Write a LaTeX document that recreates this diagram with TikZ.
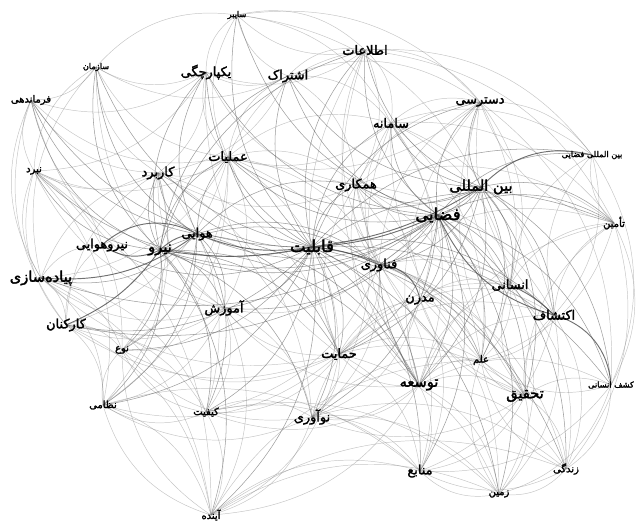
\documentclass[tikz,border=0pt]{standalone}
\usepackage{fontspec}
\newfontfamily\persian[Script=Arabic,FakeBold=2.2]{DejaVu Sans}
\TeXXeTstate=1
\usetikzlibrary{backgrounds}
\newcommand{\fa}[1]{\beginR #1\endR}
\tikzset{
  word/.style={inner sep=0pt, text=black, font=\persian\fontsize{11}{12}\selectfont},
  bigword/.style={word, font=\persian\fontsize{12.5}{13}\selectfont},
  hugeword/.style={word, font=\persian\fontsize{14}{15}\selectfont},
  medword/.style={word, font=\persian\fontsize{8.5}{9}\selectfont},
  smallword/.style={word, font=\persian\fontsize{7}{8}\selectfont},
  link/.style={draw=black!55, line width=0.4pt, opacity=0.42},
  midlink/.style={draw=black!70, line width=0.45pt, opacity=0.55},
  strong/.style={draw=black!70, line width=0.8pt, opacity=0.8}
}

\begin{document}
\begin{tikzpicture}[x=0.03cm,y=-0.03cm]
  \useasboundingbox (0,0) rectangle (639,527);

  % words
  \node[smallword] (cyber) at (237,15) {\fa{سایبر}};
  \node[smallword] (org) at (96,67) {\fa{سازمان}};
  \node[medword] (command) at (31,100) {\fa{فرماندهی}};
  \node[word] (integ) at (206,72) {\fa{یکپارچگی}};
  \node[word] (share) at (288,76) {\fa{اشتراک}};
  \node[word] (info) at (365,50) {\fa{اطلاعات}};
  \node[word] (access) at (480,102) {\fa{دسترسی}};
  \node[word] (system) at (391,123) {\fa{سامانه}};
  \node[smallword] (intspace) at (592,155) {\fa{بین المللی فضایی}};
  \node[medword] (battle) at (34,171) {\fa{نبرد}};
  \node[word] (usage) at (158,173) {\fa{کاربرد}};
  \node[word] (ops) at (228,157) {\fa{عملیات}};
  \node[word] (coop) at (356,185) {\fa{همکاری}};
  \node[bigword] (intl) at (481,187) {\fa{بین المللی}};
  \node[hugeword] (space) at (438,215) {\fa{فضایی}};
  \node[medword] (supply) at (614,223) {\fa{تأمین}};
  \node[word] (air) at (197,234) {\fa{هوایی}};
  \node[word] (airforce) at (102,245) {\fa{نیروهوایی}};
  \node[bigword] (force) at (160,250) {\fa{نیرو}};
  \node[hugeword] (capab) at (312,247) {\fa{قابلیت}};
  \node[word] (tech) at (379,265) {\fa{فناوری}};
  \node[bigword] (impl) at (41,278) {\fa{پیاده‌سازی}};
  \node[word] (human) at (510,285) {\fa{انسانی}};
  \node[word] (modern) at (420,300) {\fa{مدرن}};
  \node[word] (train) at (224,308) {\fa{آموزش}};
  \node[word] (explor) at (554,315) {\fa{اکتشاف}};
  \node[word] (staff) at (66,325) {\fa{کارکنان}};
  \node[medword] (type) at (122,350) {\fa{نوع}};
  \node[word] (support) at (339,354) {\fa{حمایت}};
  \node[medword] (science) at (481,360) {\fa{علم}};
  \node[medword] (military) at (103,405) {\fa{نظامی}};
  \node[medword] (quality) at (206,412) {\fa{کیفیت}};
  \node[bigword] (devel) at (419,385) {\fa{توسعه}};
  \node[bigword] (research) at (525,396) {\fa{تحقیق}};
  \node[word] (innov) at (312,417) {\fa{نوآوری}};
  \node[smallword] (humexp) at (611,385) {\fa{کشف انسانی}};
  \node[medword] (life) at (566,469) {\fa{زندگی}};
  \node[medword] (earth) at (499,494) {\fa{زمین}};
  \node[word] (resources) at (420,471) {\fa{منابع}};
  \node[medword] (future) at (211,515) {\fa{آینده}};

  \begin{scope}[on background layer]
    \foreach \a/\bs in {
      capab/{cyber,org,command,integ,share,info,access,system,intspace,battle,usage,ops,coop,supply,airforce,train,explor,staff,type,support,science,military,quality,devel,research,innov,humexp,life,earth,resources,future},
      space/{cyber,integ,share,info,access,system,intspace,ops,coop,supply,air,force,tech,human,modern,train,support,science,devel,research,innov,humexp,life,earth,resources,impl,staff},
      intl/{info,access,system,coop,supply,human,explor,science,research,devel,tech,support,humexp,ops,share,force},
      force/{org,command,integ,share,battle,usage,ops,train,type,military,quality,support,devel,innov,future,tech,info},
      air/{org,command,integ,usage,impl,train,type,military,quality,support,devel,tech,coop}}
      \foreach \b in \bs
        \draw[midlink] (\a.center) to[bend left=28] (\b.center);

    \foreach \a/\bs in {
      ops/{cyber,org,command,integ,share,info,battle,usage,coop,impl,train,staff,type,military,support,devel,tech,system},
      tech/{info,access,system,coop,human,explor,science,support,research,innov,resources,earth,life,quality,train,supply},
      devel/{info,access,system,coop,modern,human,explor,science,research,innov,resources,earth,life,quality,train,support,supply,humexp,future},
      support/{integ,info,coop,modern,human,explor,science,research,innov,resources,earth,quality,train,type,staff,military,future,impl},
      research/{access,supply,human,explor,science,innov,resources,earth,life,humexp,modern,coop,system},
      explor/{life,earth,science,supply,intspace,access,resources},
      human/{life,earth,science,supply,intspace,access,coop},
      train/{staff,type,military,quality,future,impl,usage,innov,battle,command,org},
      impl/{command,battle,staff,type,military,quality,usage,org,future,airforce},
      staff/{command,battle,type,military,quality,future,usage,airforce},
      quality/{type,military,future,innov,resources,earth},
      innov/{future,resources,earth,life,science,type,military,modern},
      share/{cyber,info,integ,system,access,coop,usage,org},
      info/{cyber,system,access,coop,integ,supply,intspace},
      integ/{cyber,org,usage,command,battle},
      system/{access,coop,supply,intspace,modern,ops,human,explor,science,devel},
      coop/{access,modern,supply,usage,integ,explor,science,innov},
      modern/{science,human,explor,innov,resources},
      usage/{org,command,battle,airforce,type,military,quality,support,innov},
      future/{type,military,resources,earth,life,science},
      supply/{intspace,humexp,life,access,science},
      access/{human,science,intspace,humexp,ops},
      battle/{command,org,airforce,type,military,future},
      org/{command,cyber},
      cyber/{info,intl,system,access},
      humexp/{life,earth,science,resources},
      life/{earth,resources,science},
      earth/{resources,science},
      military/{type,future,resources},
      intspace/{humexp,explor}}
      \foreach \b in \bs
        \draw[link] (\a.center) to[bend left=28] (\b.center);

    \draw[strong] (airforce.center) to[bend left=35] (air.center);
    \draw[strong] (airforce.center) to[bend right=30] (force.center);
    \draw[strong] (force.center) to[bend left=20] (air.center);
    \draw[strong] (force.center) to[bend right=10] (capab.center);
    \draw[strong] (capab.center) to[bend right=10] (space.center);
    \draw[strong] (capab.center) to[bend left=15] (air.center);
    \draw[strong] (intl.center) to[bend left=30] (intspace.center);
    \draw[strong] (space.center) to[bend right=25] (explor.center);
    \draw[strong] (human.center) to[bend left=10] (explor.center);
    \draw[strong] (explor.center) to[bend left=35] (humexp.center);
    \draw[strong] (impl.center) to[bend right=20] (air.center);
    \draw[strong] (staff.center) to[bend right=15] (force.center);
    \draw[strong] (tech.center) to[bend left=40] (modern.center);
    \draw[midlink] (tech.center) to[bend right=15] (devel.center);
    \draw[strong] (capab.center) to[bend left=10] (tech.center);
    \draw[midlink] (intl.center) to[bend left=20] (space.center);
    \draw[midlink] (ops.center) to[bend right=20] (air.center);
    \draw[strong] (capab.center) to[bend right=12] (intl.center);
  \end{scope}
\end{tikzpicture}
\end{document}
